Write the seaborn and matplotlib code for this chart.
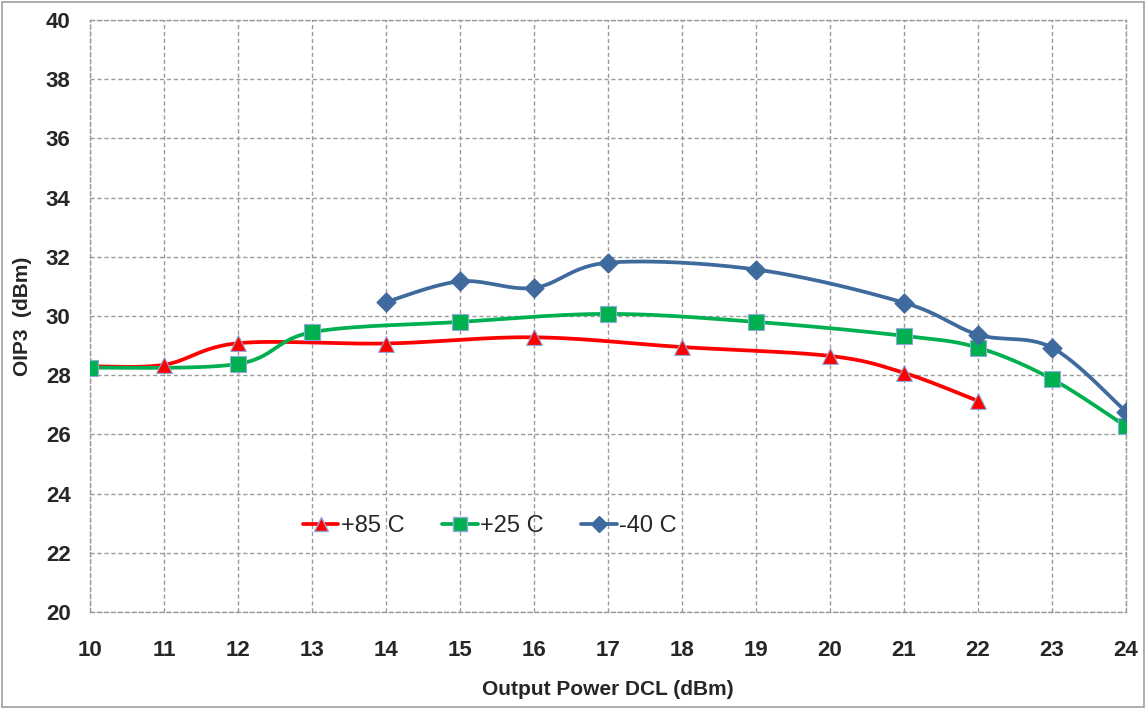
import numpy as np
import pandas as pd
import matplotlib
matplotlib.use("Agg")
import matplotlib.pyplot as plt
from matplotlib.lines import Line2D
import seaborn as sns

# values
x_85 = [10, 11, 12, 14, 16, 18, 20, 21, 22]
y_85 = [28.3, 28.35, 29.08, 29.07, 29.28, 28.95, 28.65, 28.08, 27.13]

x_25 = [10, 12, 13, 15, 17, 19, 21, 22, 23, 24]
y_25 = [28.25, 28.38, 29.45, 29.8, 30.07, 29.8, 29.33, 28.93, 27.87, 26.27]

x_40 = [14, 15, 16, 17, 19, 21, 22, 23, 24]
y_40 = [30.47, 31.17, 30.95, 31.8, 31.57, 30.45, 29.37, 28.93, 26.77]

labels = ["+85 C", "+25 C", "-40 C"]
colors = ["#FF0000", "#00B050", "#3F6A9E"]
markers = ["^", "s", "D"]
x_ticks = list(range(10, 25))
y_ticks = list(range(20, 41, 2))


def smooth(xs, ys, n=30):
    """Excel-like smoothed line (Catmull-Rom bezier between points)."""
    p = np.column_stack([xs, ys]).astype(float)
    p = np.vstack([p[0], p, p[-1]])
    out = []
    for i in range(1, len(p) - 2):
        p0, p1, p2, p3 = p[i - 1], p[i], p[i + 1], p[i + 2]
        c1 = p1 + (p2 - p0) / 6
        c2 = p2 - (p3 - p1) / 6
        t = np.linspace(0, 1, n)[:, None]
        seg = ((1 - t) ** 3) * p1 + 3 * ((1 - t) ** 2) * t * c1 + 3 * (1 - t) * t ** 2 * c2 + t ** 3 * p2
        out.append(seg if i == 1 else seg[1:])
    out = np.vstack(out)
    return out[:, 0], out[:, 1]


sns.set_theme(style="white")
plt.rcParams["font.family"] = ["Liberation Sans", "DejaVu Sans"]

fig = plt.figure(figsize=(11.46, 7.08), dpi=100)
ax = fig.add_axes([0.0785, 0.1356, 0.904, 0.8362])

series = [(x_85, y_85), (x_25, y_25), (x_40, y_40)]
sizes = {"^": 130, "s": 130, "D": 95}
handles = []
for (xs, ys), lab, col, mk in zip(series, labels, colors, markers):
    sx, sy = smooth(xs, ys)
    curve = pd.DataFrame({"x": sx, "y": sy})
    sns.lineplot(data=curve, x="x", y="y", ax=ax, color=col, linewidth=2.7,
                 sort=False, estimator=None, zorder=3)
    pts = pd.DataFrame({"x": xs, "y": ys})
    edge = "#8EA9DB" if mk != "D" else col
    sns.scatterplot(data=pts, x="x", y="y", ax=ax, marker=mk, color=col,
                    s=sizes[mk], edgecolor=edge, linewidth=0.8, zorder=4)
    handles.append(Line2D([], [], color=col, linewidth=2.7, marker=mk,
                          markersize=10 if mk != "D" else 8.5,
                          markerfacecolor=col, markeredgecolor=edge))

ax.set_xlim(10, 24)
ax.set_ylim(20, 40)
ax.set_xticks(x_ticks)
ax.set_yticks(y_ticks)
ax.grid(True, color="#9A9A9A", linestyle=(0, (3, 2)), linewidth=1.0)
ax.tick_params(axis="x", length=0, pad=20, labelsize=16)
ax.tick_params(axis="y", length=0, pad=14, labelsize=16)
for lbl in ax.get_xticklabels() + ax.get_yticklabels():
    lbl.set_fontweight("bold")
for sp in ax.spines.values():
    sp.set_color("#9A9A9A")
    sp.set_linewidth(1.0)
    sp.set_linestyle((0, (3, 2)))

ax.set_xlabel("Output Power DCL (dBm)", fontsize=15, fontweight="bold", labelpad=14)
ax.set_ylabel("OIP3  (dBm)", fontsize=15, fontweight="bold", labelpad=10)

ax.legend(handles, labels, loc="center", bbox_to_anchor=(0.386, 0.145), ncol=3,
          frameon=False, fontsize=17, handlelength=1.5, handletextpad=0.1,
          columnspacing=1.6)

fig.patches.append(plt.Rectangle((0.002, 0.002), 0.996, 0.995, transform=fig.transFigure,
                                 fill=False, edgecolor="#A0A0A0", linewidth=1.2))

fig.savefig("out.png", dpi=100)
